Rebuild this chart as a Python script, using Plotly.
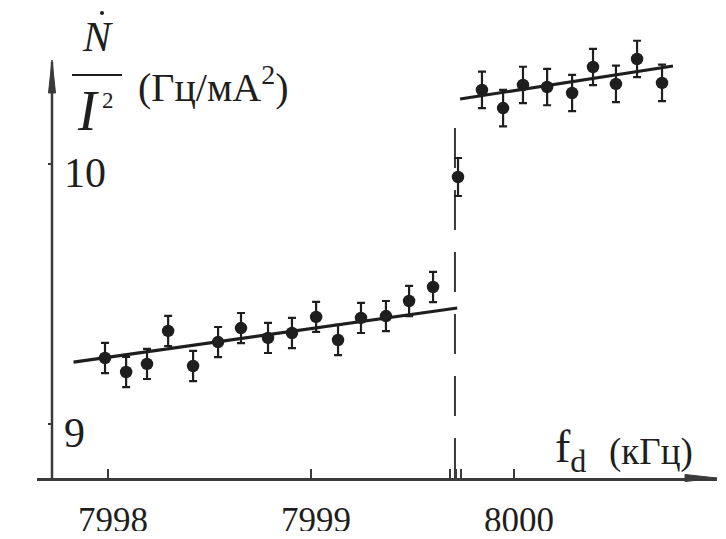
import plotly.graph_objects as go

# ---- data ----
x_low = [7997.985, 7998.089, 7998.192, 7998.296, 7998.419, 7998.542, 7998.655, 7998.788,
         7998.906, 7999.025, 7999.133, 7999.246, 7999.369, 7999.483, 7999.601]
y_low = [9.254, 9.200, 9.231, 9.358, 9.223, 9.315, 9.369, 9.331,
         9.350, 9.412, 9.323, 9.408, 9.415, 9.473, 9.527]
err_low = [0.058] * len(x_low)

x_mid = [7999.724]
y_mid = [9.950]
err_mid = [0.073]

x_high = [7999.842, 7999.946, 8000.044, 8000.163, 8000.286, 8000.389, 8000.502, 8000.606, 8000.729]
y_high = [10.285, 10.215, 10.304, 10.296, 10.273, 10.373, 10.308, 10.404, 10.312]
err_high = [0.07] * len(x_high)

fit_low_x = [7997.83, 7999.72]
fit_low_y = [9.238, 9.446]
fit_high_x = [7999.734, 8000.783]
fit_high_y = [10.25, 10.377]

jump_x = [7999.709, 7999.709]
jump_y = [8.7923, 10.21]

x_tickvals = [7998, 7999, 7999.685, 7999.714, 7999.739, 8000]
x_ticktext = ["7998", "7999", "", "", "", "8000"]
y_tickvals = [9, 10]
y_ticktext = ["9", "10"]

x_range = [7997.650, 8000.9998]
y_range = [8.7923, 10.5154]

# ---- figure (page body adds an 8px margin, so the figure is 16px smaller) ----
OFF = 8
W, H = 710, 523
ML, MR, MT, MB = 29, 1, 22, 53
PW, PH = W - ML - MR, H - MT - MB
INK = "#1e1e1e"
AX = "#3a3a3a"
SERIF = "Liberation Serif"


def px(xr):
    """reference-picture x pixel -> paper coordinate"""
    return (xr - OFF - ML) / PW


def py(yr):
    """reference-picture y pixel -> paper coordinate"""
    return (H - MB - (yr - OFF)) / PH


fig = go.Figure()

fig.add_trace(go.Scatter(x=jump_x, y=jump_y, mode="lines",
                         line=dict(color=AX, width=2, dash="40px,22px"),
                         hoverinfo="skip", showlegend=False))
fig.add_trace(go.Scatter(x=fit_low_x, y=fit_low_y, mode="lines",
                         line=dict(color=INK, width=3.2), showlegend=False))
fig.add_trace(go.Scatter(x=fit_high_x, y=fit_high_y, mode="lines",
                         line=dict(color=INK, width=3.2), showlegend=False))

for xs, ys, es in [(x_low, y_low, err_low), (x_mid, y_mid, err_mid), (x_high, y_high, err_high)]:
    fig.add_trace(go.Scatter(
        x=xs, y=ys, mode="markers", cliponaxis=False,
        marker=dict(color=INK, size=12.5),
        error_y=dict(type="data", array=es, visible=True, color=INK, thickness=2.2, width=4),
        showlegend=False))

fig.update_layout(
    width=W, height=H,
    margin=dict(l=ML, r=MR, t=MT, b=MB, pad=0, autoexpand=False),
    paper_bgcolor="white", plot_bgcolor="white",
    font=dict(family=SERIF, color=INK),
    xaxis=dict(range=x_range, showgrid=False, zeroline=False, automargin=False,
               showline=True, linecolor=AX, linewidth=2.5,
               tickvals=x_tickvals, ticktext=x_ticktext,
               ticks="inside", ticklen=9, tickwidth=1.5, tickcolor=AX,
               tickfont=dict(family=SERIF, size=35, color=INK),
               ticklabelstandoff=9, ticklabelshift=5),
    yaxis=dict(range=y_range, showgrid=False, zeroline=False, automargin=False,
               anchor="free", position=px(52), side="right",
               showline=False,
               tickvals=y_tickvals, ticktext=y_ticktext,
               ticks="inside", ticklen=4, tickwidth=1.5, tickcolor=AX,
               tickfont=dict(family=SERIF, size=42, color=INK),
               ticklabelstandoff=11, ticklabelshift=8),
)

ann = []
# y title: N-dot over I^2 (Гц/мА^2)
ann.append(dict(xref="paper", yref="paper", x=px(97), y=py(37), showarrow=False,
                text="<i>N</i>", font=dict(family=SERIF, size=42, color=INK),
                xanchor="center", yanchor="middle"))
ann.append(dict(xref="paper", yref="paper", x=px(88), y=py(111), showarrow=False,
                text="<i>I</i>", font=dict(family=SERIF, size=56, color=INK),
                xanchor="center", yanchor="middle"))
ann.append(dict(xref="paper", yref="paper", x=px(108), y=py(100), showarrow=False,
                text="2", font=dict(family=SERIF, size=23, color=INK),
                xanchor="center", yanchor="middle"))
ann.append(dict(xref="paper", yref="paper", x=px(136), y=py(85), showarrow=False,
                text="(Гц/мА<sup>2</sup>)", font=dict(family=SERIF, size=40, color=INK),
                xanchor="left", yanchor="middle"))
# x title
ann.append(dict(xref="paper", yref="paper", x=px(553), y=py(450), showarrow=False,
                text="f<sub>d</sub>", font=dict(family=SERIF, size=46, color=INK),
                xanchor="left", yanchor="middle"))
ann.append(dict(xref="paper", yref="paper", x=px(607), y=py(452), showarrow=False,
                text="(кГц)", font=dict(family=SERIF, size=37, color=INK),
                xanchor="left", yanchor="middle"))
fig.update_layout(annotations=ann)

# dot over N (time derivative) and fraction bar
fig.add_shape(type="circle", xref="paper", yref="paper",
              x0=px(100), x1=px(104), y0=py(15), y1=py(11),
              fillcolor=INK, line=dict(color=INK, width=0))
fig.add_shape(type="line", xref="paper", yref="paper",
              x0=px(72), x1=px(122), y0=py(75), y1=py(75),
              line=dict(color=INK, width=2))
# y axis line (stops below the title) and arrowheads of both axes
fig.add_shape(type="line", xref="paper", yref="paper",
              x0=px(52), x1=px(52), y0=py(478), y1=py(62),
              line=dict(color=AX, width=2.5))
tipx, tipy = px(717), py(478)
basex = px(685)
fig.add_shape(type="path", xref="paper", yref="paper",
              path=f"M {tipx} {tipy} L {basex} {py(474.5)} L {basex} {py(481.5)} Z",
              fillcolor=AX, line=dict(color=AX, width=1))
ytx, yty = px(52), py(60)
fig.add_shape(type="path", xref="paper", yref="paper",
              path=f"M {ytx} {yty} L {px(48.5)} {py(93)} L {px(55.5)} {py(93)} Z",
              fillcolor=AX, line=dict(color=AX, width=1))

fig.write_html("out.html")
